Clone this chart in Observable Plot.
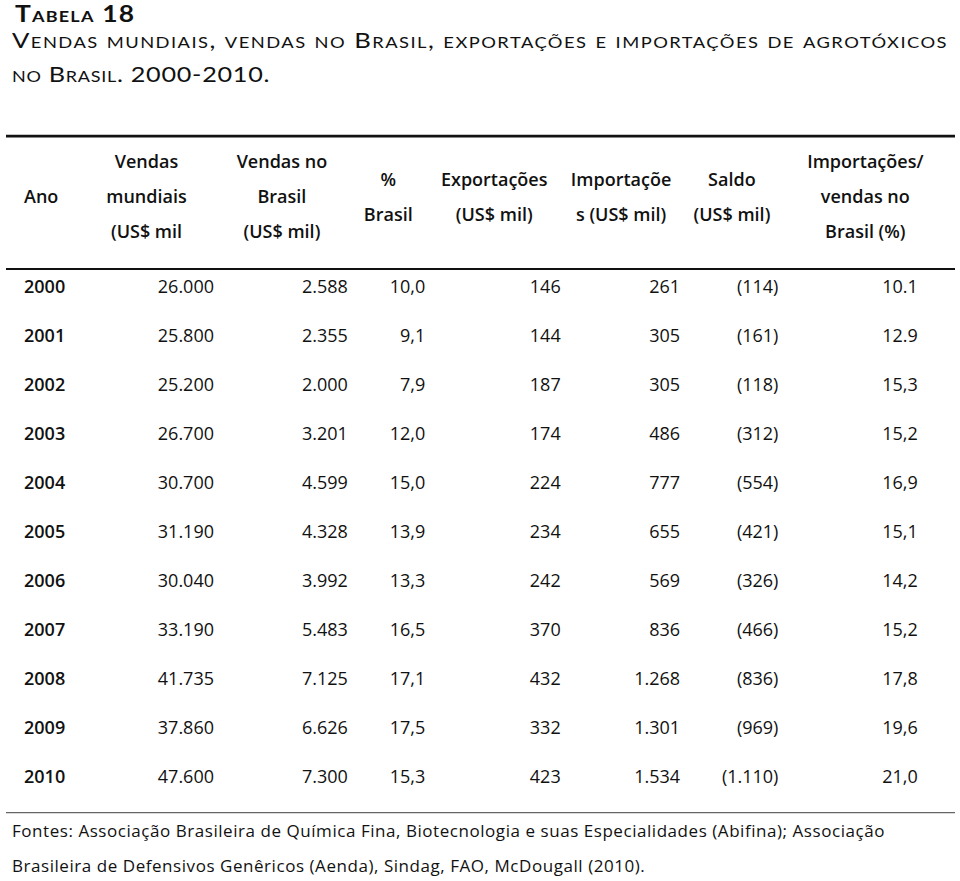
<!DOCTYPE html>
<html>
<head>
<meta charset="utf-8">
<script src="https://cdn.jsdelivr.net/npm/d3@7"></script>
<script src="https://cdn.jsdelivr.net/npm/@observablehq/plot@0.6"></script>
<style>
  body { margin: 0; background: #fff; font-family: "Open Sans", sans-serif; color: #111; }
  #wrap { position: relative; width: 960px; height: 881px; overflow: hidden; }
  .t { position: absolute; white-space: nowrap; line-height: 1; font-family: Lato, "Open Sans", sans-serif; font-variant: small-caps; transform-origin: 0 0; }
  #t1 { left: 15px; top: 2.5px; font-size: 22px; font-weight: 700; letter-spacing: 1px; transform: scaleX(1.2); }
  #t2 { left: 12px; top: 28.9px; font-size: 21px; letter-spacing: 1.2px; transform: scaleX(1.222); }
  #t3 { left: 12px; top: 63.4px; font-size: 21px; letter-spacing: 0.6px; transform: scaleX(1.2); }
  #chart { position: absolute; left: 0; top: 100px; }
  #foot { position: absolute; left: 12px; top: 813px; font-size: 17px; line-height: 35px; letter-spacing: 0.55px; white-space: nowrap; }
</style>
</head>
<body>
<div id="wrap">
  <div class="t" id="t1">Tabela 18</div>
  <div class="t" id="t2">Vendas mundiais, vendas no Brasil, exportações e importações de agrotóxicos</div>
  <div class="t" id="t3">no Brasil. 2000-2010.</div>
  <div id="chart"></div>
  <div id="foot">Fontes: Associação Brasileira de Química Fina, Biotecnologia e suas Especialidades (Abifina); Associação<br>Brasileira de Defensivos Genêricos (Aenda), Sindag, FAO, McDougall (2010).</div>
</div>
<script>
// ---- data (as printed in the table) ----
const years = ["2000","2001","2002","2003","2004","2005","2006","2007","2008","2009","2010"];
const vendasMundiais = ["26.000","25.800","25.200","26.700","30.700","31.190","30.040","33.190","41.735","37.860","47.600"];
const vendasBrasil = ["2.588","2.355","2.000","3.201","4.599","4.328","3.992","5.483","7.125","6.626","7.300"];
const pctBrasil = ["10,0","9,1","7,9","12,0","15,0","13,9","13,3","16,5","17,1","17,5","15,3"];
const exportacoes = ["146","144","187","174","224","234","242","370","432","332","423"];
const importacoes = ["261","305","305","486","777","655","569","836","1.268","1.301","1.534"];
const saldo = ["(114)","(161)","(118)","(312)","(554)","(421)","(326)","(466)","(836)","(969)","(1.110)"];
const impVendas = ["10.1","12.9","15,3","15,2","16,9","15,1","14,2","15,2","17,8","19,6","21,0"];

const columnKeys = ["ano","mund","bras","pct","exp","imp","saldo","impv"];
const headerLabels = [
  "Ano",
  "Vendas\nmundiais\n(US$ mil",
  "Vendas no\nBrasil\n(US$ mil)",
  "%\nBrasil",
  "Exportações\n(US$ mil)",
  "Importaçõe\ns (US$ mil)",
  "Saldo\n(US$ mil)",
  "Importações/\nvendas no\nBrasil (%)"
];
const columnValues = [years, vendasMundiais, vendasBrasil, pctBrasil, exportacoes, importacoes, saldo, impVendas];

// ---- layout (styles / offsets, kept apart from data) ----
const layout = [
  {hdx: -44.5, hAnchor: "start", ddx: -44.5, dAnchor: "start", dWeight: 600},
  {hdx: -40, hAnchor: "middle", ddx: 27.5, dAnchor: "end", dWeight: 400},
  {hdx: -22.6, hAnchor: "middle", ddx: 43.4, dAnchor: "end", dWeight: 400},
  {hdx: -34.2, hAnchor: "middle", ddx: 2.8, dAnchor: "end", dWeight: 400},
  {hdx: -46.3, hAnchor: "middle", ddx: 20.2, dAnchor: "end", dWeight: 400},
  {hdx: -37.4, hAnchor: "middle", ddx: 21.6, dAnchor: "end", dWeight: 400},
  {hdx: -44.6, hAnchor: "middle", ddx: 1.9, dAnchor: "end", dWeight: 400},
  {hdx: -29.2, hAnchor: "middle", ddx: 23.3, dAnchor: "end", dWeight: 400}
];
const FONT = "Open Sans";
const fs = 18;

const marks = [];
// rules
marks.push(Plot.ruleY([years[0]], {dy: -151.4, stroke: "#111", strokeWidth: 2.6}));
marks.push(Plot.ruleY([years[0]], {dy: -18.4, stroke: "#111", strokeWidth: 2}));
marks.push(Plot.ruleY([years[years.length - 1]], {dy: 35.1, stroke: "#666", strokeWidth: 1.4}));

columnKeys.forEach((key, i) => {
  const L = layout[i];
  // header
  marks.push(Plot.text([headerLabels[i]], {
    x: () => key, frameAnchor: "top", dy: -95, text: d => d,
    lineAnchor: "middle", lineHeight: 35 / fs,
    textAnchor: L.hAnchor, dx: L.hdx,
    fontFamily: FONT, fontSize: fs, fontWeight: 600, fill: "#111"
  }));
  // body cells
  const vals = columnValues[i];
  marks.push(Plot.text(years, {
    x: () => key, y: d => d, text: (d, j) => vals[j],
    textAnchor: L.dAnchor, dx: L.ddx,
    fontFamily: FONT, fontSize: fs, fontWeight: L.dWeight, fill: "#111"
  }));
});

const chart = Plot.plot({
  width: 960,
  height: 713,
  marginLeft: 6,
  marginRight: 5,
  marginTop: 186.4,
  marginBottom: 35.6,
  x: {type: "point", domain: columnKeys, padding: 0.5, axis: null},
  y: {type: "point", domain: years, padding: 0, axis: null},
  style: {background: "white", overflow: "visible"},
  marks
});
document.getElementById("chart").append(chart);
</script>
</body>
</html>
